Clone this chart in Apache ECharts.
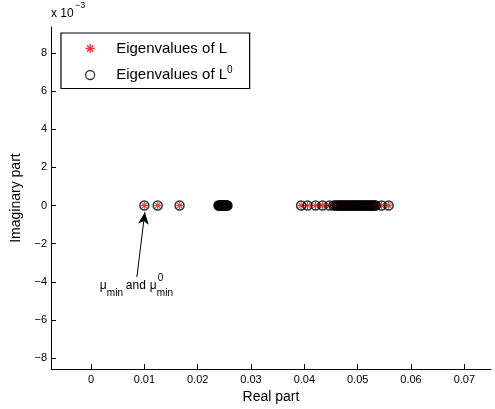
<!DOCTYPE html>
<html><head><meta charset="utf-8">
<script src="https://cdn.jsdelivr.net/npm/echarts@6/dist/echarts.min.js"></script>
<style>html,body{margin:0;padding:0;background:#fff}#c{width:495px;height:409px}</style>
</head><body><div id="c"></div>
<script>
// Real parts of eigenvalues (imaginary parts all zero; y axis in units of 1e-3)
const realL = [0.0100, 0.0125, 0.0166,
  0.0239, 0.0240, 0.0241, 0.0242, 0.0243, 0.0244, 0.0245, 0.0246, 0.0247, 0.0248,
  0.0249, 0.0250, 0.0251, 0.0252, 0.0253, 0.0254, 0.0255, 0.0256,
  0.0394, 0.0406, 0.0421, 0.0434, 0.0447, 0.0455, 0.0458, 0.0461, 0.0463, 0.0466,
  0.0468, 0.0470, 0.0472, 0.0474, 0.0476, 0.0478, 0.0480, 0.0482, 0.0484, 0.0486,
  0.0488, 0.0490, 0.0492, 0.0494, 0.0496, 0.0498, 0.0500, 0.0502, 0.0504, 0.0506,
  0.0508, 0.0510, 0.0512, 0.0514, 0.0516, 0.0518, 0.0520, 0.0522, 0.0524, 0.0526,
  0.0528, 0.0530, 0.0532, 0.0534, 0.0545, 0.0558];
const realL0 = [0.0100, 0.0125, 0.0166,
  0.0239, 0.0240, 0.0241, 0.0242, 0.0243, 0.0244, 0.0245, 0.0246, 0.0247, 0.0248,
  0.0249, 0.0250, 0.0251, 0.0252, 0.0253, 0.0254, 0.0255, 0.0256,
  0.0394, 0.0406, 0.0421, 0.0434, 0.0447, 0.0455, 0.0458, 0.0461, 0.0463, 0.0466,
  0.0468, 0.0470, 0.0472, 0.0474, 0.0476, 0.0478, 0.0480, 0.0482, 0.0484, 0.0486,
  0.0488, 0.0490, 0.0492, 0.0494, 0.0496, 0.0498, 0.0500, 0.0502, 0.0504, 0.0506,
  0.0508, 0.0510, 0.0512, 0.0514, 0.0516, 0.0518, 0.0520, 0.0522, 0.0524, 0.0526,
  0.0528, 0.0530, 0.0532, 0.0534, 0.0545, 0.0558];
const imagL = realL.map(() => 0);
const imagL0 = realL0.map(() => 0);
const xTicks = [0, 0.01, 0.02, 0.03, 0.04, 0.05, 0.06, 0.07];
const yTicks = [-8, -6, -4, -2, 0, 2, 4, 6, 8];
const seriesNames = ['Eigenvalues of L', 'Eigenvalues of L0'];
const arrowTail = [0.0086, -3.75];
const arrowHead = [0.0101, -0.35];

const FONT = 'Liberation Sans, Arial, Helvetica, sans-serif';
const starPath = 'path://M-0.15,-1L0.15,-1L0.15,1L-0.15,1Z M-1,-0.15L1,-0.15L1,0.15L-1,0.15Z M-0.594,-0.806L0.806,0.594L0.594,0.806L-0.806,-0.594Z M-0.806,0.594L0.594,-0.806L0.806,-0.594L-0.594,0.806Z';

const chart = echarts.init(document.getElementById('c'), null, {renderer: 'canvas'});
chart.setOption({
  animation: false,
  textStyle: {fontFamily: FONT},
  grid: {left: 51, right: 4, top: 27, bottom: 37, containLabel: false},
  xAxis: {
    type: 'value', min: -0.0075, max: 0.075,
    name: 'Real part', nameLocation: 'middle', nameGap: 17,
    nameTextStyle: {fontSize: 14, color: '#000', fontFamily: FONT},
    axisLine: {show: true, onZero: false, lineStyle: {color: '#000', width: 1}},
    axisTick: {show: true, inside: true, length: 5, customValues: xTicks, lineStyle: {color: '#000'}},
    axisLabel: {customValues: xTicks, fontSize: 11, color: '#000', margin: 5, fontFamily: FONT,
      formatter: v => String(+v.toFixed(3))},
    splitLine: {show: false}
  },
  yAxis: {
    type: 'value', min: -8.57, max: 9.35,
    name: 'Imaginary part', nameLocation: 'middle', nameGap: 17,
    nameTextStyle: {fontSize: 14, color: '#000', fontFamily: FONT},
    axisLine: {show: true, onZero: false, lineStyle: {color: '#000', width: 1}},
    axisTick: {show: true, inside: true, length: 5, customValues: yTicks, lineStyle: {color: '#000'}},
    axisLabel: {customValues: yTicks, fontSize: 11, color: '#000', margin: 4, fontFamily: FONT,
      formatter: v => v < 0 ? '\u2212' + Math.abs(v) : String(v)},
    splitLine: {show: false}
  },
  legend: {
    orient: 'vertical', left: 61, top: 33,
    padding: [8, 17, 6, 24],
    itemWidth: 42, itemHeight: 9, itemGap: 9,
    borderColor: '#000', borderWidth: 1.2, backgroundColor: '#fff',
    data: [
      {name: seriesNames[0], icon: starPath, itemStyle: {color: '#ff0000'}},
      {name: seriesNames[1], icon: 'circle', itemStyle: {color: '#fff', borderColor: '#000', borderWidth: 1.3}}
    ],
    formatter: n => n === seriesNames[1] ? '{t|Eigenvalues of L}{s|0}' : '{t|' + n + '}',
    textStyle: {fontSize: 15, color: '#000', fontFamily: FONT,
      rich: {t: {fontSize: 15, fontFamily: FONT, color: '#000', lineHeight: 20},
             s: {fontSize: 10, fontFamily: FONT, color: '#000', lineHeight: 10, verticalAlign: 'top'}}}
  },
  series: [
    {
      name: seriesNames[0], type: 'scatter', symbol: starPath, symbolSize: 7,
      itemStyle: {color: '#ff0000'},
      data: realL.map((x, i) => [x, imagL[i]]), z: 2,
      markLine: {
        silent: true, symbol: ['none', 'arrow'], symbolSize: [8, 12],
        lineStyle: {color: '#000', width: 1, type: 'solid'}, label: {show: false},
        data: [[{coord: arrowTail}, {coord: arrowHead}]]
      }
    },
    {
      name: seriesNames[1], type: 'scatter', symbol: 'circle', symbolSize: 9,
      itemStyle: {color: 'rgba(0,0,0,0)', borderColor: '#000', borderWidth: 1.5},
      data: realL0.map((x, i) => [x, imagL0[i]]), z: 3
    }
  ]
});

const tail = chart.convertToPixel({gridIndex: 0}, arrowTail);
const bx = tail[0] - 37, by = tail[1] + 3;
const ts = (t, x, y, fs) => ({type: 'text', left: x, top: y, style: {text: t, fontSize: fs, fontFamily: FONT, fill: '#000'}});
const origin = chart.convertToPixel({gridIndex: 0}, [-0.0075, 9.35]);
chart.setOption({
  graphic: [
    ts('\u03bc', bx, by, 12),
    ts('min', bx + 7, by + 8, 10),
    ts('and', bx + 26, by, 12),
    ts('\u03bc', bx + 50, by, 12),
    ts('0', bx + 58, by - 7, 10),
    ts('min', bx + 57, by + 8, 10),
    ts('x 10', origin[0], origin[1] - 19, 12),
    ts('\u22123', origin[0] + 24, origin[1] - 26, 9)
  ]
});
</script></body></html>
